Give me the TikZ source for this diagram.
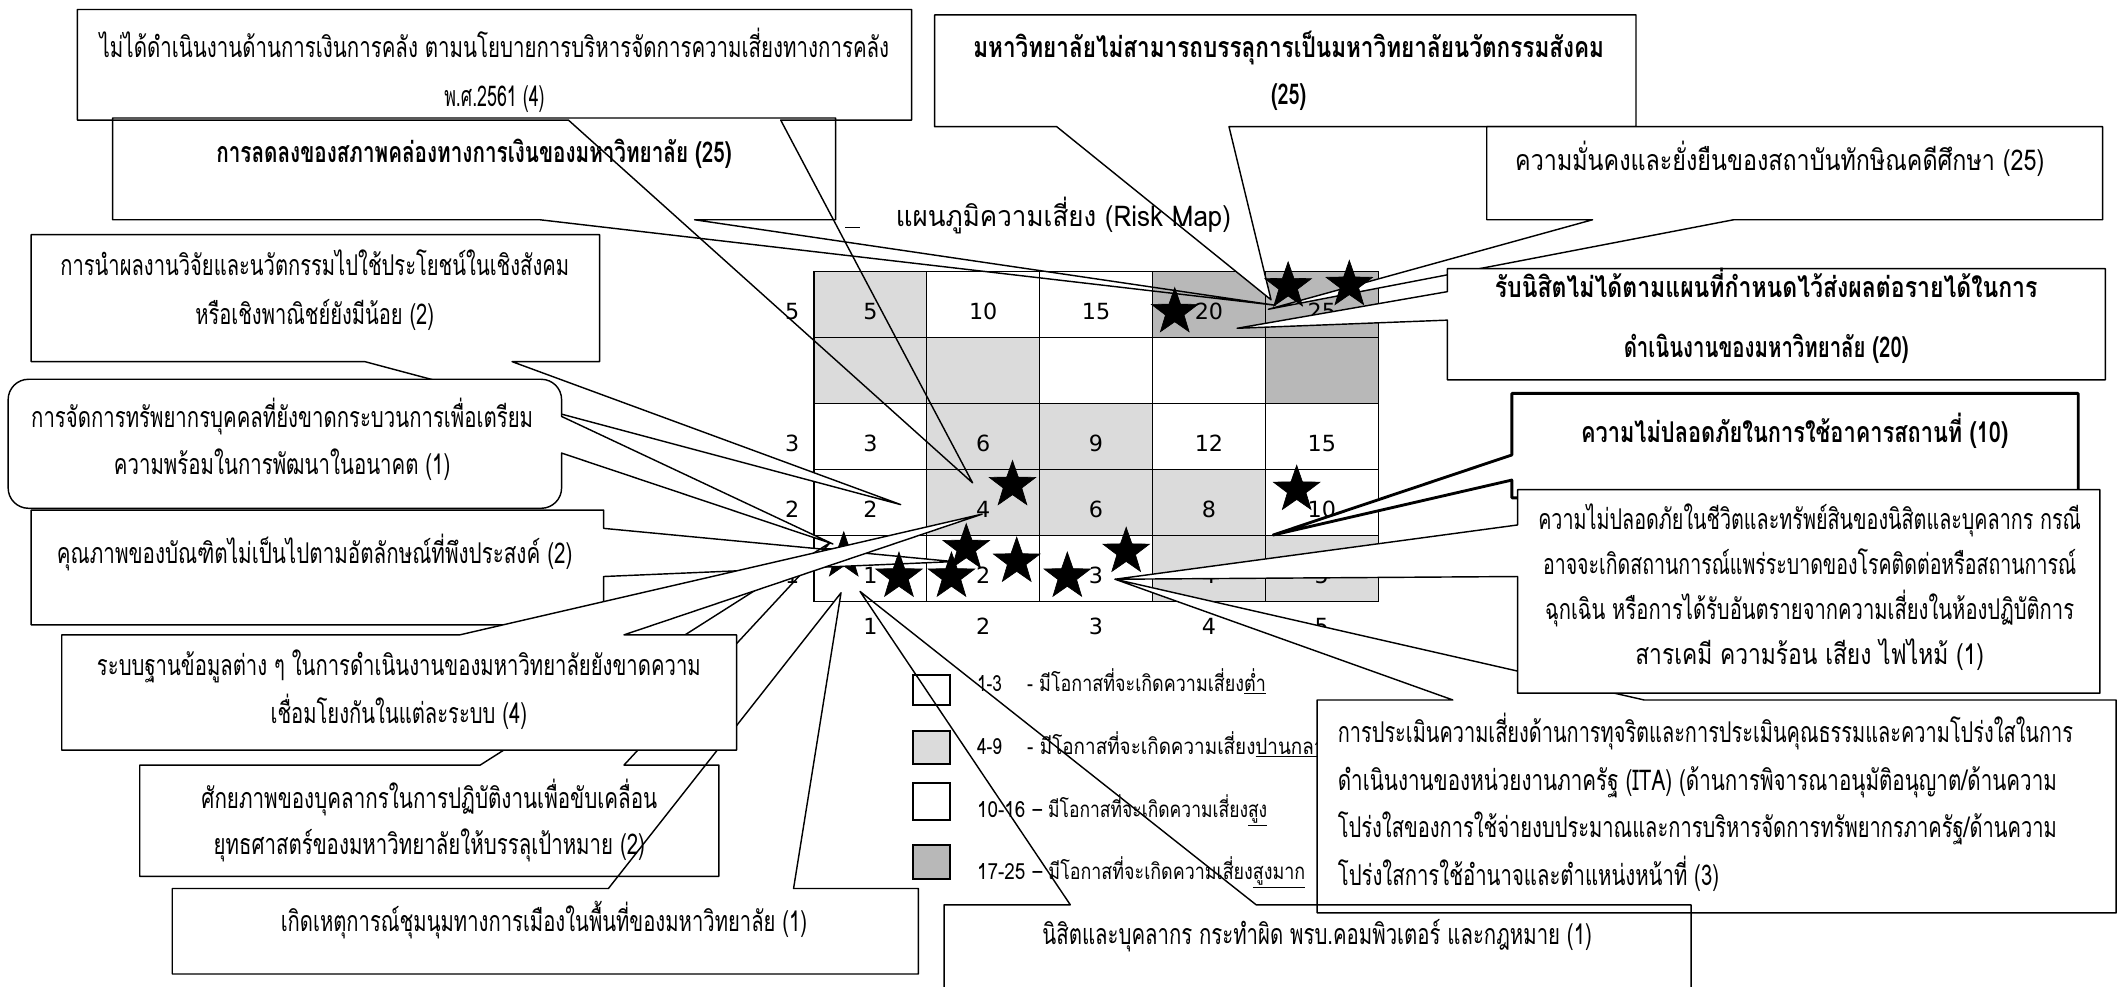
\documentclass[tikz,border=0pt]{standalone}
\usepackage{fontspec}
\setmainfont[Script=Thai]{Loma}
\newfontfamily\gridfont{DejaVu Sans}
\usepackage{tikz}
\usetikzlibrary{shapes.geometric}
\definecolor{lowshade}{gray}{0.86}
\definecolor{highshade}{gray}{0.72}
\newlength\pu
\setlength\pu{0.03cm}
% squeeze one line of text to a given width (in picture units)
\newcommand\fitw[2]{\smash{\resizebox{#1\pu}{\height}{#2}}}

\begin{document}
\begin{tikzpicture}[x=0.03cm, y=-0.03cm,
  gridline/.style={line width=0.9pt},
  cellnum/.style={inner sep=0pt, font=\gridfont\fontsize{14}{16}\selectfont},
  riskstar/.style={star, star points=5, star point ratio=2.5, fill=black, draw=black, inner sep=0pt, minimum size=36\pu},
  callout/.style={draw=black, line width=0.9pt, line join=round},
  whitecallout/.style={callout, fill=white},
  boxtext/.style={inner sep=0pt, align=center, font=\fontsize{18}{#1}\selectfont},
  boxtext/.default=30,
  legsq/.style={draw=black, line width=1.2pt, inner sep=0pt, minimum width=27\pu},
  legtext/.style={inner sep=0pt, anchor=west, font=\fontsize{14}{16}\selectfont}]
\clip (0,0) rectangle (1568,727);
\fill[white] (0,0) rectangle (1568,727);

% risk matrix
\foreach \c/\r/\s in {1/5/lowshade, 4/5/highshade, 5/5/highshade, 1/4/lowshade, 2/4/lowshade, 5/4/highshade,
  2/3/lowshade, 3/3/lowshade, 2/2/lowshade, 3/2/lowshade, 4/2/lowshade, 4/1/lowshade, 5/1/lowshade}
  \fill[\s] ({600+83.2*(\c-1)},{443.5-48.7*\r}) rectangle ++(83.2,48.7);
\foreach \i in {0,...,5} {
  \draw[gridline] ({600+83.2*\i},200) -- ({600+83.2*\i},443.5);
  \draw[gridline] (600,{200+48.7*\i}) -- (1016,{200+48.7*\i});
}
\foreach \c/\r/\v in {1/5/5, 2/5/10, 3/5/15, 4/5/20, 5/5/25, 1/3/3, 2/3/6, 3/3/9, 4/3/12, 5/3/15,
  1/2/2, 2/2/4, 3/2/6, 4/2/8, 5/2/10, 1/1/1, 2/1/2, 3/1/3, 4/1/4, 5/1/5}
  \node[cellnum] (n\c\r) at ({558.4+83.2*\c},{472.85-48.7*\r}) {\v};
\foreach \r in {5,3,2,1}
  \node[cellnum] (row\r) at (584,{472.85-48.7*\r}) {\r};
\foreach \c in {1,...,5}
  \node[cellnum] (col\c) at ({558.4+83.2*\c},462) {\c};

% star hidden under the pointers
\node[riskstar] (s0) at (622,410) {};

% legend
\node[legsq, minimum height=22.1\pu, fill=white] (sq1) at (686.5,508.65) {};
\node[legsq, minimum height=24\pu, fill=lowshade] (sq2) at (686.5,551) {};
\node[legsq, minimum height=27.5\pu, fill=white] (sq3) at (686.5,590.75) {};
\node[legsq, minimum height=25\pu, fill=highshade] (sq4) at (686.5,635.5) {};
\node[legtext] (lr1) at (720,509.4) {\fitw{18.4}{1-3}};
\node[legtext] (ld1) at (757,509.4) {\fitw{176}{- มีโอกาสที่จะเกิดความเสี่ยง\underline{ต่ำ}}};
\node[legtext] (lr2) at (720,556) {\fitw{18.4}{4-9}};
\node[legtext] (ld2) at (757,556) {\fitw{226}{- มีโอกาสที่จะเกิดความเสี่ยง\underline{ปานกลาง}}};
\node[legtext] (lr3) at (720,602.4) {\fitw{35.6}{10-16}};
\node[legtext] (ld3) at (761,602.4) {\fitw{173}{– มีโอกาสที่จะเกิดความเสี่ยง\underline{สูง}}};
\node[legtext] (lr4) at (720,648.2) {\fitw{35.6}{17-25}};
\node[legtext] (ld4) at (761,648.2) {\fitw{201}{– มีโอกาสที่จะเกิดความเสี่ยง\underline{สูงมาก}}};

% callouts
\coordinate (tipA) at (717,356);
\draw[callout] (57,7) -- (672,7) -- (672,88.5) -- (575.5,88.5) -- (tipA) -- (419,88.5) -- (57,88.5) -- cycle;
\node[boxtext=30.7] (tA) at (364.5,60.7) {\fitw{582}{ไม่ได้ดำเนินงานด้านการเงินการคลัง ตามนโยบายการบริหารจัดการความเสี่ยงทางการคลัง}\\\fitw{74}{พ.ศ.2561 (4)}};

\coordinate (tipB) at (940,225);
\draw[callout] (83,87) -- (616,87) -- (616,162) -- (512,162) -- (tipB) -- (398,162) -- (83,162) -- cycle;
\node[boxtext] (tB) at (349.5,119.7) {\fitw{380}{\bfseries การลดลงของสภาพคล่องทางการเงินของมหาวิทยาลัย (25)}};

\coordinate (tipC) at (937,221);
\draw[whitecallout] (689,11) -- (1206,11) -- (1206,93.4) -- (906,93.4) -- (tipC) -- (779,93.4) -- (689,93.4) -- cycle;
\node[boxtext=29] (tC) at (950,59.7) {\fitw{465}{\bfseries มหาวิทยาลัยไม่สามารถบรรลุการเป็นมหาวิทยาลัยนวัตกรรมสังคม}\\\fitw{26}{\bfseries (25)}};

\coordinate (tipD) at (935,228);
\draw[whitecallout] (1096,93.4) -- (1550,93.4) -- (1550,162) -- (1278,162) -- (tipD) -- (1174,162) -- (1096,162) -- cycle;
\node[boxtext] (tD) at (1312,125.7) {\fitw{390}{ความมั่นคงและยั่งยืนของสถาบันทักษิณคดีศึกษา (25)}};

\coordinate (tipE) at (912,242);
\draw[whitecallout] (1067,198) -- (1552,198) -- (1552,280) -- (1067,280) -- (1067,236) -- (tipE) -- (1067,215) -- cycle;
\node[boxtext=37.6] (tE) at (1302,241.7) {\fitw{400}{\bfseries รับนิสิตไม่ได้ตามแผนที่กำหนดไว้ส่งผลต่อรายได้ในการ}\\\fitw{210}{\bfseries ดำเนินงานของมหาวิทยาลัย (20)}};

\coordinate (tipF) at (664,372);
\draw[whitecallout] (23,173) -- (442,173) -- (442,266.6) -- (377.5,266.6) -- (tipF) -- (269,266.6) -- (23,266.6) -- cycle;
\node[boxtext=30.5] (tF) at (232,221.3) {\fitw{375}{การนำผลงานวิจัยและนวัตกรรมไปใช้ประโยชน์ในเชิงสังคม}\\\fitw{176}{หรือเชิงพาณิชย์ยังมีน้อย (2)}};

\coordinate (tipG) at (614,401);
\draw[whitecallout] (414,307) [rounded corners=15\pu] -- (414,279.6) -- (6,279.6) -- (6,374.7) -- (414,374.7)
  [sharp corners] -- (414,334) -- (tipG) -- cycle;
\node[boxtext=29.4] (tG) at (208,332.5) {\fitw{370}{การจัดการทรัพยากรบุคคลที่ยังขาดกระบวนการเพื่อเตรียม}\\\fitw{248}{ความพร้อมในการพัฒนาในอนาคต  (1)}};

\coordinate (tipH) at (703,414);
\draw[whitecallout] (23,376) -- (445,376) -- (445,389.5) -- (tipH) -- (445,425) -- (445,460.7) -- (23,460.7) -- cycle;
\node[boxtext] (tH) at (232,415.7) {\fitw{380}{คุณภาพของบัณฑิตไม่เป็นไปตามอัตลักษณ์ที่พึงประสงค์ (2)}};

\coordinate (tipK) at (620,437);
\draw[whitecallout] (127,655) -- (448.5,655) -- (tipK) -- (585,655) -- (677,655) -- (677,718) -- (127,718) -- cycle;
\node[boxtext] (tK) at (401,686.4) {\fitw{388}{เกิดเหตุการณ์ชุมนุมทางการเมืองในพื้นที่ของมหาวิทยาลัย (1)}};

\coordinate (tipJ) at (612,400);
\draw[callout] (103,564) -- (354,564) -- (tipJ) -- (460,564) -- (530,564) -- (530,646) -- (103,646) -- cycle;
\node[boxtext=29] (tJ) at (316.5,612.7) {\fitw{336}{ศักยภาพของบุคลากรในการปฏิบัติงานเพื่อขับเคลื่อน}\\\fitw{318}{ยุทธศาสตร์ของมหาวิทยาลัยให้บรรลุเป้าหมาย (2)}};

\coordinate (tipI) at (724,379);
\draw[whitecallout] (45.5,468) -- (339,468) -- (tipI) -- (460,468) -- (543,468) -- (543,553) -- (45.5,553) -- cycle;
\node[boxtext=30.2] (tI) at (294,516) {\fitw{445}{ระบบฐานข้อมูลต่าง ๆ ในการดำเนินงานของมหาวิทยาลัยยังขาดความ}\\\fitw{189}{เชื่อมโยงกันในแต่ละระบบ (4)}};

\coordinate (tipO) at (938.5,394.4);
\draw[whitecallout, line width=1.8pt] (1114.5,290) -- (1532,290) -- (1532,367) -- (1114.5,367) -- (1114.5,353.9) -- (tipO) -- (1114.5,335.4) -- cycle;
\node[boxtext] (tO) at (1323,326.4) {\fitw{315}{\bfseries ความไม่ปลอดภัยในการใช้อาคารสถานที่ (10)}};

\coordinate (tipM) at (822,427);
\draw[whitecallout] (971,516) -- (1071,516) -- (tipM) -- (1212,516) -- (1560,516) -- (1560,673) -- (971,673) -- cycle;
\node[boxtext=29.9, align=left, anchor=west] (tM) at (986,600.2) {\fitw{542}{การประเมินความเสี่ยงด้านการทุจริตและการประเมินคุณธรรมและความโปร่งใสในการ}\\
  \fitw{530}{ดำเนินงานของหน่วยงานภาครัฐ (ITA)  (ด้านการพิจารณาอนุมัติอนุญาต/ด้านความ}\\
  \fitw{530}{โปร่งใสของการใช้จ่ายงบประมาณและการบริหารจัดการทรัพยากรภาครัฐ/ด้านความ}\\
  \fitw{281}{โปร่งใสการใช้อำนาจและตำแหน่งหน้าที่ (3)}};

\coordinate (tipN) at (822,427);
\draw[whitecallout] (1118.7,361) -- (1548,361) -- (1548,511) -- (1118.7,511) -- (1118.7,425) -- (tipN) -- (1118.7,387) -- cycle;
\node[boxtext=28.3] (tN) at (1334,440) {\fitw{400}{ความไม่ปลอดภัยในชีวิตและทรัพย์สินของนิสิตและบุคลากร กรณี}\\
  \fitw{393}{อาจจะเกิดสถานการณ์แพร่ระบาดของโรคติดต่อหรือสถานการณ์}\\
  \fitw{390}{ฉุกเฉิน หรือการได้รับอันตรายจากความเสี่ยงในห้องปฏิบัติการ}\\
  \fitw{257}{สารเคมี  ความร้อน เสียง ไฟไหม้   (1)}};

\coordinate (tipL) at (634,436);
\draw[callout] (696,667) -- (789,667) -- (tipL) -- (926,667) -- (1246.6,667) -- (1246.6,745) -- (696,745) -- cycle;
\node[boxtext] (tL) at (971,696.2) {\fitw{405}{นิสิตและบุคลากร กระทำผิด พรบ.คอมพิวเตอร์ และกฎหมาย (1)}};

% stars
\foreach \x/\y [count=\i] in {866/230, 949.6/211, 994.7/210, 746.4/357.5, 955.9/361, 662.7/425,
  712.3/404, 701.4/425, 749.5/414, 786.8/425, 830.2/406.7}
  \node[riskstar] (s\i) at (\x,\y) {};

% title
\node[inner sep=0pt, font=\fontsize{18}{20}\selectfont] (title) at (784,166.7) {\fitw{247}{แผนภูมิความเสี่ยง (Risk Map)}};
\draw[line width=0.6pt] (623,168) -- (634,168);
\end{tikzpicture}
\end{document}
